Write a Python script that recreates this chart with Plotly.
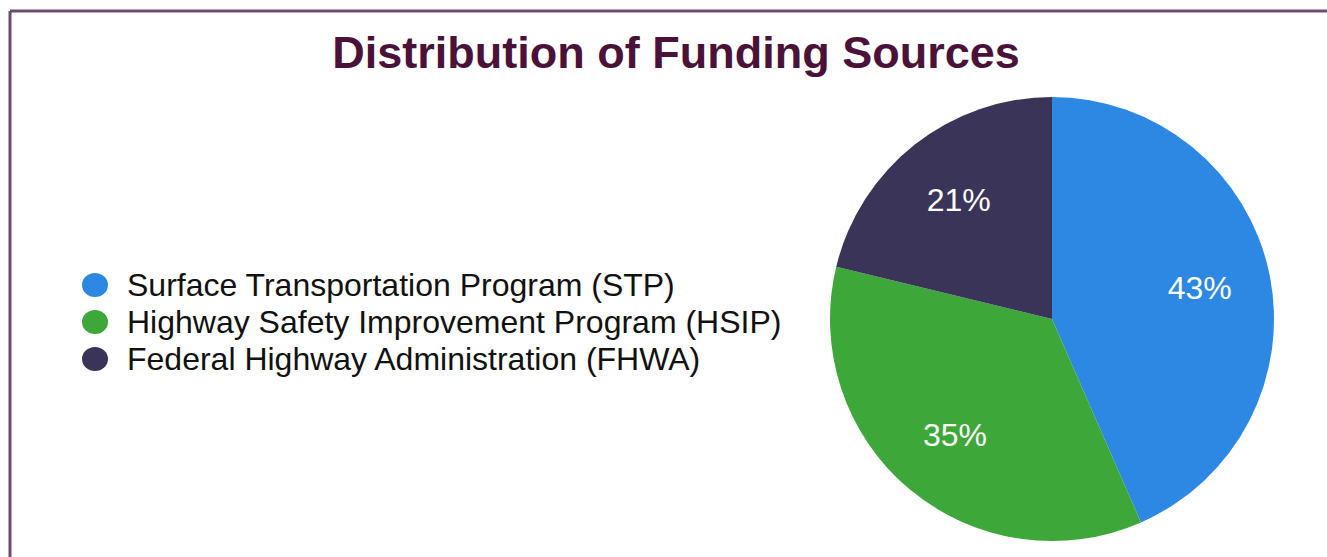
import plotly.graph_objects as go

W, H = 1327, 557

# data
sources = [
    "Surface Transportation Program (STP)",
    "Highway Safety Improvement Program (HSIP)",
    "Federal Highway Administration (FHWA)",
]
shares = [43, 35, 21]
colors = ["#2c88e2", "#3ea73a", "#3a3558"]

TITLE_COLOR = "#4a1238"
FRAME_COLOR = "#6e4b6b"
FONT = "Liberation Sans, Arial, sans-serif"


def px_x(x):
    return x / W


def px_y(y):
    return 1 - y / H


pie_domain = dict(x=[px_x(830), px_x(1274)], y=[px_y(541), px_y(97)])

fig = go.Figure()

# coloured slices
fig.add_trace(go.Pie(
    labels=sources,
    values=shares,
    sort=False,
    direction="clockwise",
    rotation=0,
    marker=dict(colors=colors, line=dict(width=0)),
    textinfo="none",
    domain=pie_domain,
    showlegend=False,
    hoverinfo="label+percent",
))

# transparent ring on top, only to push the % labels outwards
fig.add_trace(go.Pie(
    labels=sources,
    values=shares,
    sort=False,
    direction="clockwise",
    rotation=0,
    hole=0.36,
    marker=dict(colors=["rgba(0,0,0,0)"] * len(sources), line=dict(width=0)),
    texttemplate="%{percent:.0%}",
    textposition="inside",
    insidetextorientation="horizontal",
    textfont=dict(family=FONT, size=32, color="white"),
    domain=pie_domain,
    showlegend=False,
    hoverinfo="skip",
))

# frame + hand-built legend with big round markers
shapes = [
    dict(type="line", xref="paper", yref="paper",
         x0=px_x(10), y0=px_y(11), x1=1, y1=px_y(11),
         line=dict(color=FRAME_COLOR, width=3)),
    dict(type="line", xref="paper", yref="paper",
         x0=px_x(10), y0=px_y(11), x1=px_x(10), y1=0,
         line=dict(color=FRAME_COLOR, width=3)),
]
annotations = []
row_y = [285, 322, 359]
for name, col, yc in zip(sources, colors, row_y):
    shapes.append(dict(
        type="circle", xref="paper", yref="paper",
        x0=px_x(82), x1=px_x(108), y0=px_y(yc + 12), y1=px_y(yc - 12),
        fillcolor=col, line=dict(width=0),
    ))
    annotations.append(dict(
        text=name, xref="paper", yref="paper",
        x=px_x(125), y=px_y(yc), xanchor="left", yanchor="middle",
        showarrow=False, font=dict(family=FONT, size=32, color="#111111"),
    ))

fig.update_layout(
    width=W,
    height=H,
    title=dict(
        text="<b>Distribution of Funding Sources</b>",
        x=px_x(676), xanchor="center",
        y=px_y(52), yanchor="middle",
        font=dict(family=FONT, size=45, color=TITLE_COLOR),
    ),
    shapes=shapes,
    annotations=annotations,
    paper_bgcolor="white",
    plot_bgcolor="white",
    font=dict(family=FONT),
    margin=dict(l=0, r=0, t=0, b=0),
)

# page has an 8px body margin by default; drop it so the figure fills the window
fig.write_html(
    "out.html",
    config={"displayModeBar": False},
    post_script="document.body.style.margin='0';",
)
